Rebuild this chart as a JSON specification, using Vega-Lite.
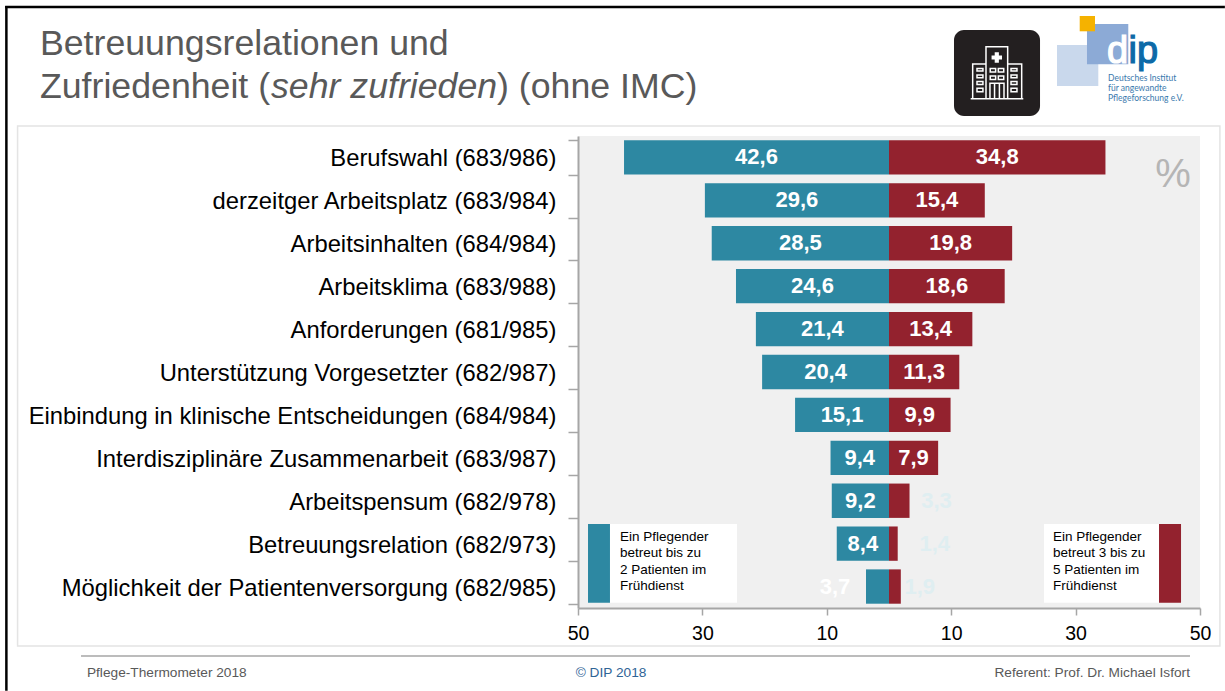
{"$schema":"https://vega.github.io/schema/vega-lite/v6.json","width":622,"height":472,"autosize":{"type":"none"},"padding":{"left":578,"top":136,"right":25,"bottom":83},"background":"#ffffff","view":{"fill":"#f0f0f0","stroke":null},"config":{"font":"Liberation Sans"},"resolve":{"scale":{"y":"independent"},"axis":{"y":"independent"}},"layer":[{"data":{"values":[{"note":"decor"}]},"layer":[{"mark":{"type":"rect","filled":false,"stroke":"#e4e4e4","strokeWidth":1.5},"encoding":{"x":{"datum":-140.1},"x2":{"datum":53.2},"y":{"datum":-0.233,"axis":null,"scale":{"domain":[0,11],"reverse":true,"nice":false,"zero":false}},"y2":{"datum":11.885}}},{"mark":{"type":"rule","color":"#000000","strokeWidth":2.5},"encoding":{"x":{"datum":-142.1},"x2":{"datum":54},"y":{"datum":-3.006,"axis":null}}},{"mark":{"type":"rule","color":"#000000","strokeWidth":2.5},"encoding":{"x":{"datum":-141.9},"y":{"datum":-3.03,"axis":null},"y2":{"datum":12.93}}},{"mark":{"type":"rule","color":"#a6a6a6","strokeWidth":1.5},"encoding":{"x":{"datum":-129.9},"x2":{"datum":48.39},"y":{"datum":12.118,"axis":null}}},{"mark":{"type":"text","text":"Betreuungsrelationen und","fontSize":35.7,"color":"#595959","align":"left","baseline":"alphabetic"},"encoding":{"x":{"datum":-136.5},"y":{"datum":-1.888,"axis":null}}},{"mark":{"type":"text","text":"Zufriedenheit (","fontSize":35.7,"color":"#595959","align":"left","baseline":"alphabetic"},"encoding":{"x":{"datum":-136.5},"y":{"datum":-0.886,"axis":null}}},{"mark":{"type":"text","text":"sehr zufrieden","fontSize":35.7,"fontStyle":"italic","color":"#595959","align":"left","baseline":"alphabetic"},"encoding":{"x":{"datum":-99.36},"y":{"datum":-0.886,"axis":null}}},{"mark":{"type":"text","text":") (ohne IMC)","fontSize":35.7,"color":"#595959","align":"left","baseline":"alphabetic"},"encoding":{"x":{"datum":-63.02},"y":{"datum":-0.886,"axis":null}}},{"mark":{"type":"text","text":"Pflege-Thermometer 2018","fontSize":13.7,"color":"#595959","align":"left","baseline":"alphabetic"},"encoding":{"x":{"datum":-128.95},"y":{"datum":12.608,"axis":null}}},{"mark":{"type":"text","text":"© DIP 2018","fontSize":13.7,"color":"#2f6496","align":"center","baseline":"alphabetic"},"encoding":{"x":{"datum":-44.69},"y":{"datum":12.608,"axis":null}}},{"mark":{"type":"text","text":"Referent: Prof. Dr. Michael Isfort","fontSize":13.7,"color":"#595959","align":"right","baseline":"alphabetic"},"encoding":{"x":{"datum":48.39},"y":{"datum":12.608,"axis":null}}},{"mark":{"type":"rect","color":"#231f20","cornerRadius":10},"encoding":{"x":{"datum":10.45},"x2":{"datum":24.28},"y":{"datum":-2.47,"axis":null},"y2":{"datum":-0.466}}},{"mark":{"type":"point","filled":false,"stroke":"#ffffff","strokeWidth":1.5,"opacity":1,"size":2916,"shape":"M-0.974 0.952L0.974 0.952M-0.407 0.952L-0.407 -0.974L0.396 -0.974L0.396 0.952M-0.407 -0.333L-0.9 -0.333L-0.9 0.952M0.396 -0.333L0.915 -0.333L0.915 0.952M-0.26 0.952L-0.26 0.38L0.26 0.38L0.26 0.952M-0.09 0.38L-0.09 0.952M0.09 0.38L0.09 0.952M-0.74 -0.17H-0.52V-0.07H-0.74ZM-0.74 0.07H-0.52V0.18H-0.74ZM-0.74 0.31H-0.52V0.43H-0.74ZM-0.74 0.56H-0.52V0.69H-0.74ZM0.52 -0.17H0.74V-0.07H0.52ZM0.52 0.07H0.74V0.18H0.52ZM0.52 0.31H0.74V0.43H0.52ZM0.52 0.56H0.74V0.69H0.52ZM-0.25 -0.17H-0.05V-0.04H-0.25ZM0.05 -0.17H0.25V-0.04H0.05ZM-0.25 0.11H-0.05V0.24H-0.25ZM0.05 0.11H0.25V0.24H0.05Z"},"encoding":{"x":{"datum":17.36},"y":{"datum":-1.468,"axis":null}}},{"mark":{"type":"point","shape":"cross","filled":true,"color":"#ffffff","opacity":1,"size":109},"encoding":{"x":{"datum":17.33},"y":{"datum":-1.83,"axis":null}}},{"mark":{"type":"rect","color":"#c9d8ec"},"encoding":{"x":{"datum":27.01},"x2":{"datum":33.65},"y":{"datum":-2.121,"axis":null},"y2":{"datum":-1.165}}},{"mark":{"type":"rect","color":"#8caad6"},"encoding":{"x":{"datum":31.83},"x2":{"datum":38.47},"y":{"datum":-2.61,"axis":null},"y2":{"datum":-1.671}}},{"mark":{"type":"rect","color":"#f5b200"},"encoding":{"x":{"datum":30.66},"x2":{"datum":33.12},"y":{"datum":-2.797,"axis":null},"y2":{"datum":-2.44}}},{"mark":{"type":"text","text":"d","fontSize":38,"color":"#ffffff","stroke":"#ffffff","strokeWidth":1.2,"align":"left","baseline":"alphabetic"},"encoding":{"x":{"datum":35.05},"y":{"datum":-1.701,"axis":null}}},{"mark":{"type":"text","text":"ip","fontSize":38,"color":"#0d6aa8","stroke":"#0d6aa8","strokeWidth":1.2,"align":"left","baseline":"alphabetic"},"encoding":{"x":{"datum":38.5},"y":{"datum":-1.701,"axis":null}}},{"mark":{"type":"text","text":"Deutsches Institut","font":"Lato","fontSize":8.5,"color":"#3a79ad","align":"left","baseline":"alphabetic"},"encoding":{"x":{"datum":35.21},"y":{"datum":-1.282,"axis":null}}},{"mark":{"type":"text","text":"für angewandte","font":"Lato","fontSize":8.5,"color":"#3a79ad","align":"left","baseline":"alphabetic"},"encoding":{"x":{"datum":35.21},"y":{"datum":-1.056,"axis":null}}},{"mark":{"type":"text","text":"Pflegeforschung e.V.","font":"Lato","fontSize":8.5,"color":"#3a79ad","align":"left","baseline":"alphabetic"},"encoding":{"x":{"datum":35.21},"y":{"datum":-0.823,"axis":null}}},{"mark":{"type":"text","text":"%","fontSize":40,"color":"#b5b5b5","align":"center","baseline":"alphabetic"},"encoding":{"x":{"datum":45.66},"y":{"datum":1.189,"axis":null}}},{"mark":{"type":"rect","color":"#ffffff"},"encoding":{"x":{"datum":-44.86},"x2":{"datum":-24.44},"y":{"datum":9.04,"axis":null},"y2":{"datum":10.88}}},{"mark":{"type":"rect","color":"#2d88a2"},"encoding":{"x":{"datum":-48.39},"x2":{"datum":-44.86},"y":{"datum":9.04,"axis":null},"y2":{"datum":10.88}}},{"mark":{"type":"rect","color":"#ffffff"},"encoding":{"x":{"datum":24.92},"x2":{"datum":43.41},"y":{"datum":9.04,"axis":null},"y2":{"datum":10.88}}},{"mark":{"type":"rect","color":"#93222e"},"encoding":{"x":{"datum":43.41},"x2":{"datum":46.95},"y":{"datum":9.04,"axis":null},"y2":{"datum":10.88}}},{"mark":{"type":"text","text":["Ein Pflegender","betreut bis zu","2 Patienten im","Frühdienst"],"lineHeight":16.3,"fontSize":13.5,"color":"#000000","align":"left","baseline":"top"},"encoding":{"x":{"datum":-43.25},"y":{"datum":9.185,"axis":null}}},{"mark":{"type":"text","text":["Ein Pflegender","betreut 3 bis zu","5 Patienten im","Frühdienst"],"lineHeight":16.3,"fontSize":13.5,"color":"#000000","align":"left","baseline":"top"},"encoding":{"x":{"datum":26.37},"y":{"datum":9.185,"axis":null}}}]},{"data":{"values":[{"item":"Berufswahl (683/986)","group":"bis 2 Patienten","value":-42.6,"label":"42,6"},{"item":"Berufswahl (683/986)","group":"3 bis 5 Patienten","value":34.8,"label":"34,8"},{"item":"derzeitger Arbeitsplatz (683/984)","group":"bis 2 Patienten","value":-29.6,"label":"29,6"},{"item":"derzeitger Arbeitsplatz (683/984)","group":"3 bis 5 Patienten","value":15.4,"label":"15,4"},{"item":"Arbeitsinhalten (684/984)","group":"bis 2 Patienten","value":-28.5,"label":"28,5"},{"item":"Arbeitsinhalten (684/984)","group":"3 bis 5 Patienten","value":19.8,"label":"19,8"},{"item":"Arbeitsklima (683/988)","group":"bis 2 Patienten","value":-24.6,"label":"24,6"},{"item":"Arbeitsklima (683/988)","group":"3 bis 5 Patienten","value":18.6,"label":"18,6"},{"item":"Anforderungen (681/985)","group":"bis 2 Patienten","value":-21.4,"label":"21,4"},{"item":"Anforderungen (681/985)","group":"3 bis 5 Patienten","value":13.4,"label":"13,4"},{"item":"Unterstützung Vorgesetzter (682/987)","group":"bis 2 Patienten","value":-20.4,"label":"20,4"},{"item":"Unterstützung Vorgesetzter (682/987)","group":"3 bis 5 Patienten","value":11.3,"label":"11,3"},{"item":"Einbindung in klinische Entscheidungen (684/984)","group":"bis 2 Patienten","value":-15.1,"label":"15,1"},{"item":"Einbindung in klinische Entscheidungen (684/984)","group":"3 bis 5 Patienten","value":9.9,"label":"9,9"},{"item":"Interdisziplinäre Zusammenarbeit (683/987)","group":"bis 2 Patienten","value":-9.4,"label":"9,4"},{"item":"Interdisziplinäre Zusammenarbeit (683/987)","group":"3 bis 5 Patienten","value":7.9,"label":"7,9"},{"item":"Arbeitspensum (682/978)","group":"bis 2 Patienten","value":-9.2,"label":"9,2"},{"item":"Arbeitspensum (682/978)","group":"3 bis 5 Patienten","value":3.3,"label":"3,3"},{"item":"Betreuungsrelation (682/973)","group":"bis 2 Patienten","value":-8.4,"label":"8,4"},{"item":"Betreuungsrelation (682/973)","group":"3 bis 5 Patienten","value":1.4,"label":"1,4"},{"item":"Möglichkeit der Patientenversorgung (682/985)","group":"bis 2 Patienten","value":-3.7,"label":"3,7"},{"item":"Möglichkeit der Patientenversorgung (682/985)","group":"3 bis 5 Patienten","value":1.9,"label":"1,9"}]},"encoding":{"y":{"field":"item","type":"nominal","sort":null,"title":null,"scale":{"paddingInner":0.2,"paddingOuter":0.1},"axis":{"domainColor":"#a6a6a6","domainWidth":2,"tickColor":"#a6a6a6","tickWidth":1.5,"tickSize":10,"tickBand":"extent","labelFontSize":23.8,"labelColor":"#000000","labelPadding":12,"labelOffset":1.5,"labelLimit":600,"grid":false}},"x":{"field":"value","type":"quantitative","title":null,"scale":{"domain":[-50,50],"nice":false},"axis":{"values":[-50,-30,-10,10,30,50],"labelExpr":"abs(datum.value)","orient":"bottom","domainColor":"#a6a6a6","domainWidth":2,"tickColor":"#a6a6a6","tickWidth":1.5,"tickSize":7,"labelFontSize":19.5,"labelColor":"#000000","labelPadding":9,"labelFlush":false,"grid":false,"title":null}}},"layer":[{"mark":{"type":"bar"},"encoding":{"color":{"field":"group","type":"nominal","legend":null,"scale":{"domain":["bis 2 Patienten","3 bis 5 Patienten"],"range":["#2d88a2","#93222e"]}}}},{"transform":[{"filter":"abs(datum.value) >= 7"},{"calculate":"datum.value / 2","as":"mid"}],"mark":{"type":"text","fontWeight":"bold","fontSize":22,"color":"#ffffff","align":"center","baseline":"middle"},"encoding":{"x":{"field":"mid","type":"quantitative"},"text":{"field":"label"}}},{"transform":[{"filter":"datum.label === '3,3'"}],"mark":{"type":"text","fontWeight":"bold","fontSize":22,"color":"#dfeef1","align":"center","baseline":"middle","dx":27},"encoding":{"text":{"field":"label"}}},{"transform":[{"filter":"datum.label === '1,4'"}],"mark":{"type":"text","fontWeight":"bold","fontSize":22,"color":"#dfeef1","align":"center","baseline":"middle","dx":37},"encoding":{"text":{"field":"label"}}},{"transform":[{"filter":"datum.label === '1,9'"}],"mark":{"type":"text","fontWeight":"bold","fontSize":22,"color":"#dfeef1","align":"center","baseline":"middle","dx":19},"encoding":{"text":{"field":"label"}}},{"transform":[{"filter":"datum.label === '3,7'"}],"mark":{"type":"text","fontWeight":"bold","fontSize":22,"color":"#ffffff","align":"center","baseline":"middle","dx":-31},"encoding":{"text":{"field":"label"}}}]}]}
